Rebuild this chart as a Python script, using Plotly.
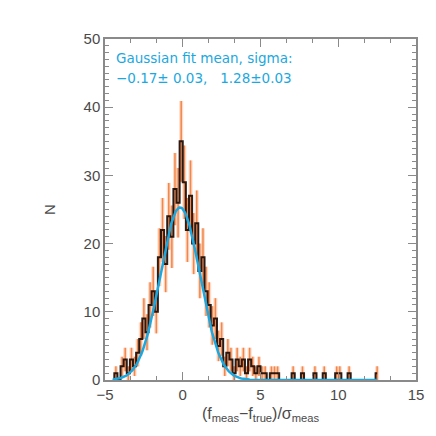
import numpy as np
import plotly.graph_objects as go

# ── Datos del histograma (bins de 0.2, centros -4.5 ... 12.5) ────────────────
bin_start = -4.5
bin_width = 0.2
counts = [
    0, 1, 0, 2, 3, 1, 3, 2, 4, 6,          # -4.5 .. -2.7
    9, 7, 11, 13, 10, 18, 22, 17, 24, 21,  # -2.5 .. -0.7
    28, 26, 35, 29, 22, 27, 20, 23, 16, 18,  # -0.5 .. 1.3
    13, 11, 8, 9, 5, 6, 2, 4, 3, 1,        # 1.5 .. 3.3
    3, 2, 3, 1, 3, 2, 1, 2, 1, 1,          # 3.5 .. 5.3
    0, 1, 1, 1, 0, 0, 0, 0, 1, 0,          # 5.5 .. 7.3
    0, 1, 0, 0, 0, 1, 0, 0, 1, 0,          # 7.5 .. 9.3
    0, 0, 1, 1, 0, 0, 1, 0, 0, 0,          # 9.5 .. 11.3
    0, 0, 0, 0, 0, 1,                      # 11.5 .. 12.5
]
bin_centers = [round(bin_start + i * bin_width, 2) for i in range(len(counts))]
errors = [np.sqrt(c) for c in counts]

# ── Ajuste gaussiano ─────────────────────────────────────────────────────────
fit_amp = 25.3
fit_mean = -0.17
fit_sigma = 1.28
fit_x = np.linspace(-4.5, 12.5, 400)
fit_y = fit_amp * np.exp(-(fit_x - fit_mean) ** 2 / (2 * fit_sigma ** 2))

AXIS_COLOR = '#8a8a8a'
TEXT_COLOR = '#4a4a4a'
FIT_COLOR = '#1ba8e0'

fig = go.Figure()

# halo claro de las barras de error
fig.add_trace(go.Scatter(
    x=bin_centers, y=counts, mode='markers',
    marker=dict(size=0.1, color='rgba(0,0,0,0)'),
    error_y=dict(type='data', array=errors, visible=True,
                 color='rgba(250,170,130,0.45)', thickness=4, width=0),
    showlegend=False, hoverinfo='skip',
))

# barras de error (naranja)
fig.add_trace(go.Scatter(
    x=bin_centers, y=counts, mode='markers',
    marker=dict(size=0.1, color='rgba(0,0,0,0)'),
    error_y=dict(type='data', array=errors, visible=True,
                 color='rgba(240,120,50,0.85)', thickness=1.5, width=0),
    showlegend=False,
))

# histograma en escalones
fig.add_trace(go.Scatter(
    x=bin_centers, y=counts, mode='lines',
    line=dict(color='rgba(20,5,0,0.9)', width=2, shape='hvh'),
    showlegend=False,
))

# curva del ajuste
fig.add_trace(go.Scatter(
    x=fit_x, y=fit_y, mode='lines',
    line=dict(color=FIT_COLOR, width=2.5),
    showlegend=False,
))

_axis = dict(
    showline=True, linecolor=AXIS_COLOR, linewidth=1.5, mirror='ticks',
    ticks='inside', tickcolor=AXIS_COLOR, ticklen=8, tickwidth=1,
    showgrid=False, zeroline=False,
    tickfont=dict(family='Liberation Sans', size=15, color=TEXT_COLOR),
)

fig.update_layout(
    width=436, height=436,
    paper_bgcolor='white', plot_bgcolor='white',
    margin=dict(l=97, r=28, t=31, b=64),
    font=dict(family='Liberation Sans', color=TEXT_COLOR),
    xaxis=dict(
        **_axis, range=[-5, 15], tickmode='array',
        tickvals=[-5, 0, 5, 10, 15], ticktext=['\u22125', '0', '5', '10', '15'],
        minor=dict(dtick=5 / 3, tick0=-5, ticks='inside', ticklen=4, tickcolor=AXIS_COLOR),
        title=dict(text='(f<sub>meas</sub>\u2212f<sub>true</sub>)/\u03c3<sub>meas</sub>',
                   font=dict(size=16, color=TEXT_COLOR), standoff=6),
    ),
    yaxis=dict(
        **_axis, range=[0, 50], dtick=10,
        minor=dict(dtick=1, ticks='inside', ticklen=4, tickcolor=AXIS_COLOR),
        title=dict(text='N', font=dict(size=15, color=TEXT_COLOR), standoff=24),
    ),
    annotations=[
        dict(text='Gaussian fit mean, sigma:', x=0.03, y=0.945, xref='paper', yref='paper',
             xanchor='left', yanchor='middle', showarrow=False,
             font=dict(family='DejaVu Sans', size=13.5, color=FIT_COLOR)),
        dict(text='\u22120.17\u00b1 0.03,   1.28\u00b10.03', x=0.03, y=0.886,
             xref='paper', yref='paper', xanchor='left', yanchor='middle', showarrow=False,
             font=dict(family='DejaVu Sans', size=13.5, color=FIT_COLOR)),
    ],
)

fig.write_html("out.html")
